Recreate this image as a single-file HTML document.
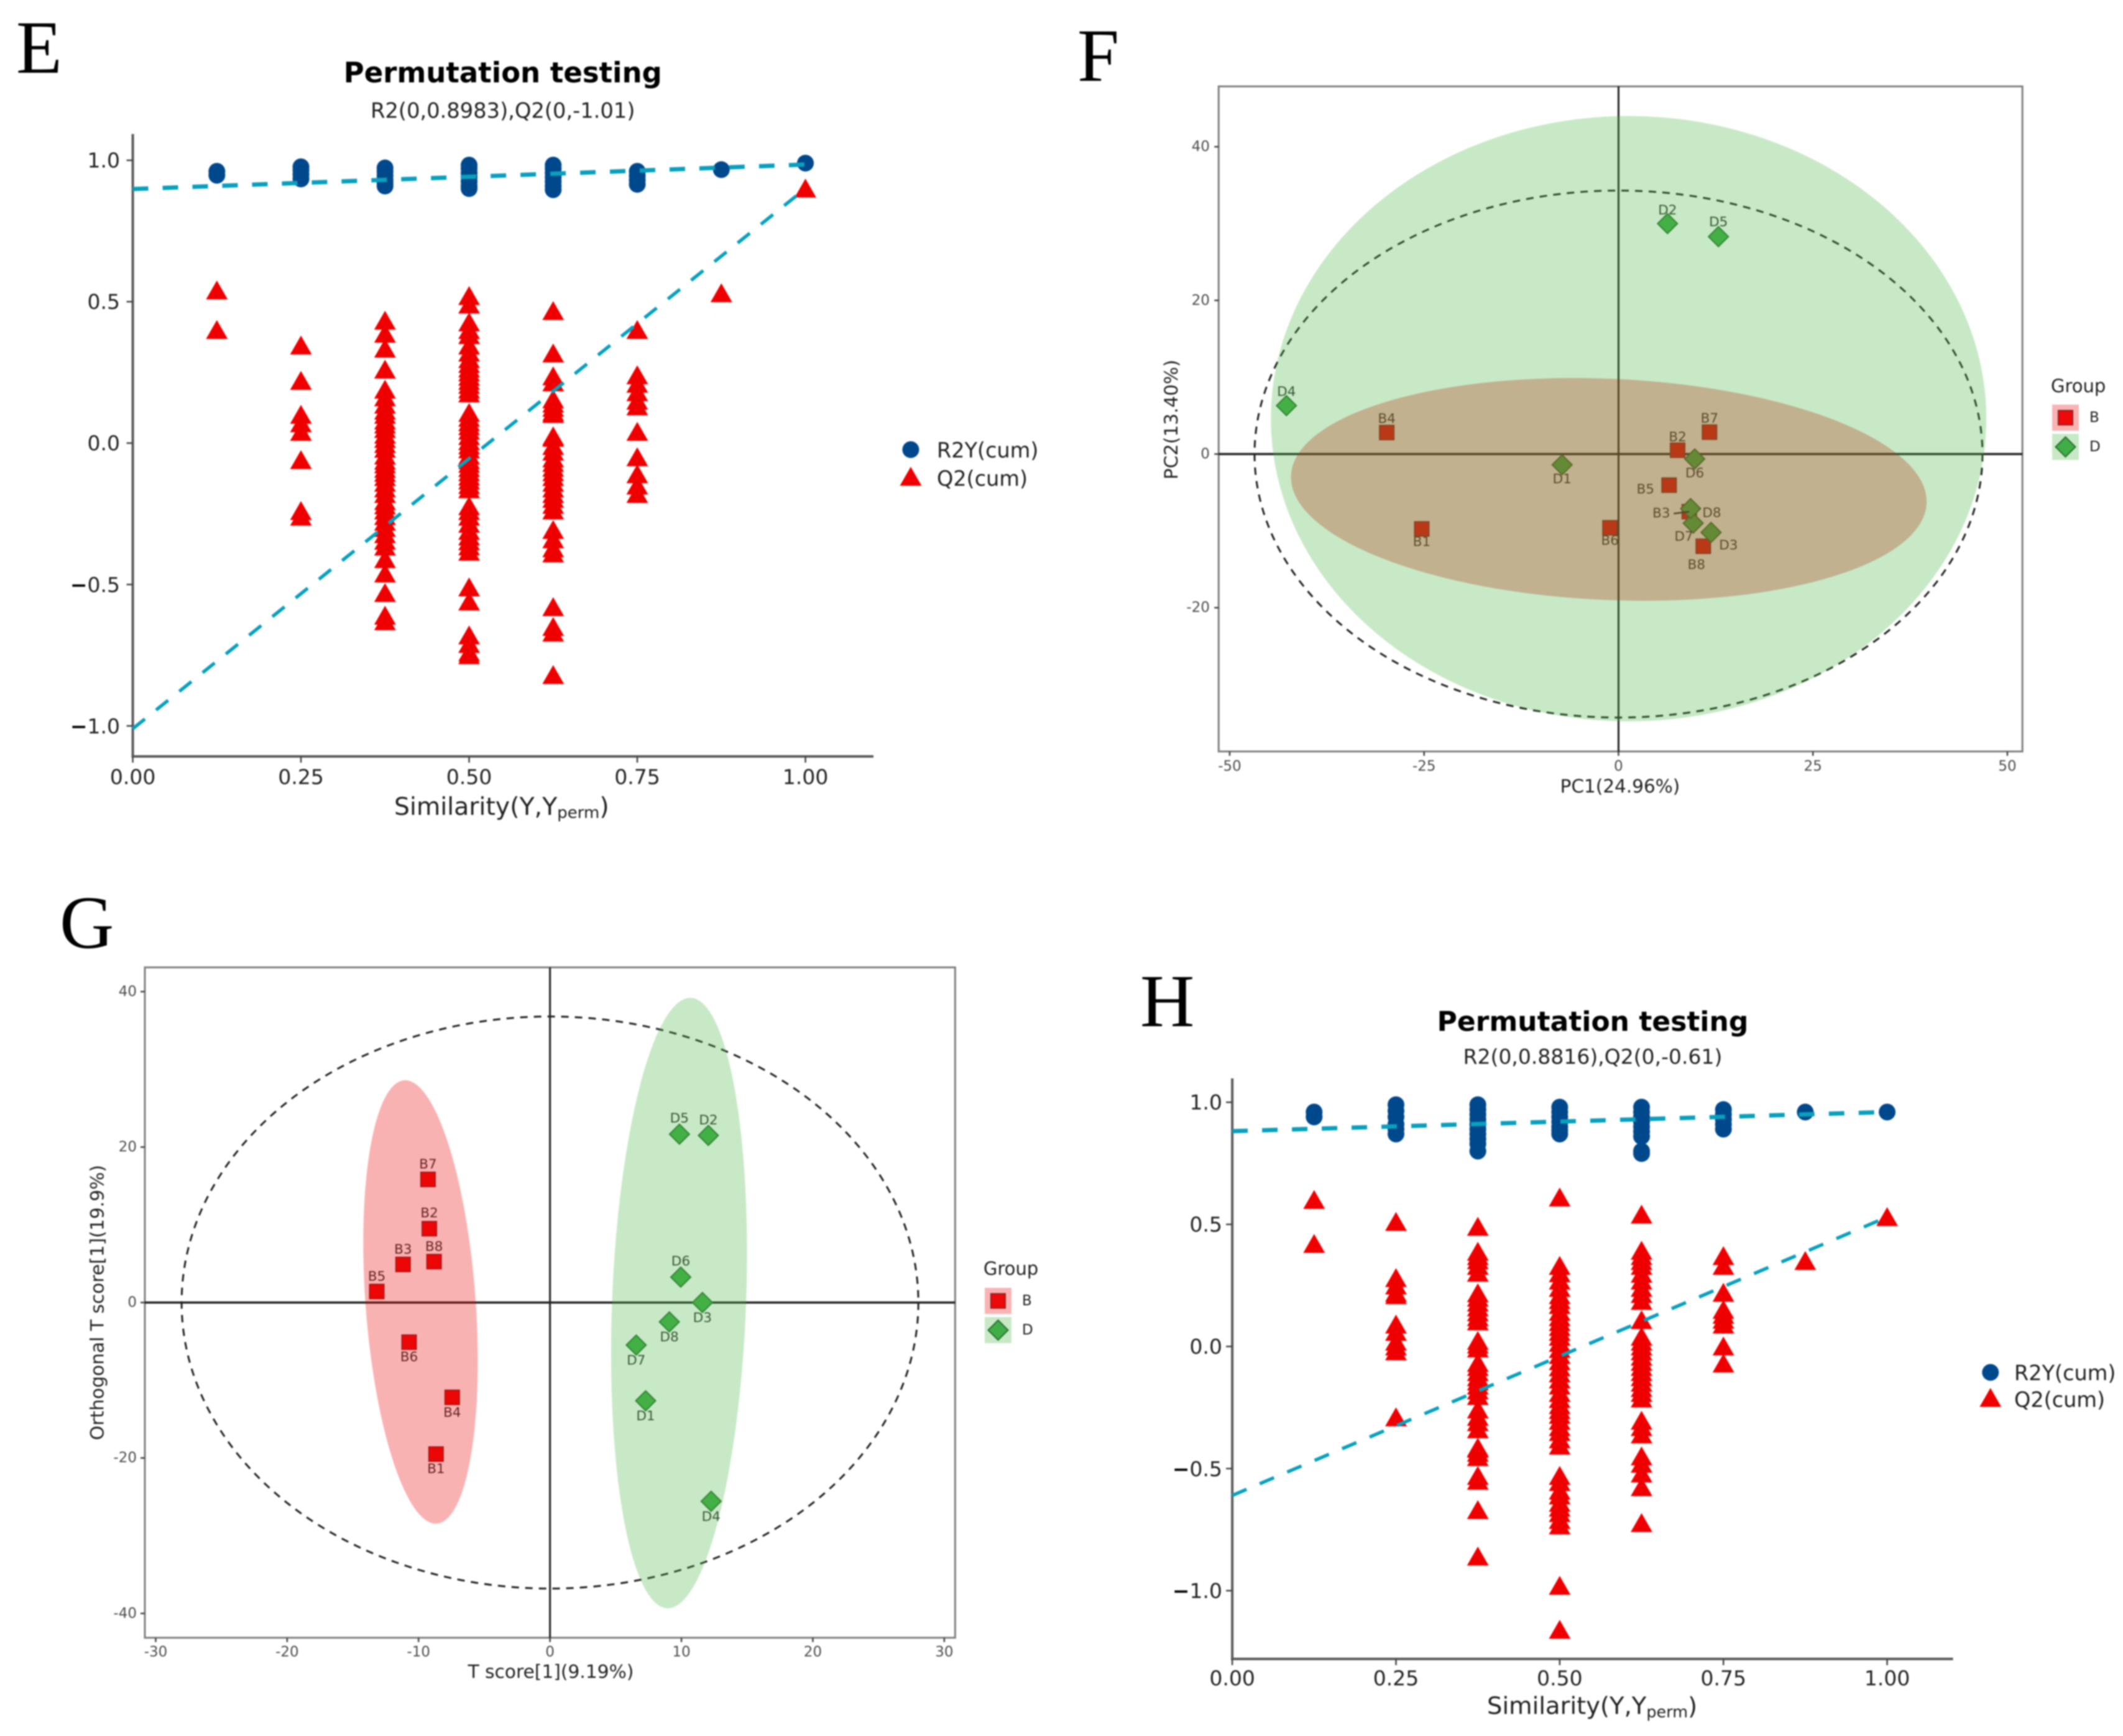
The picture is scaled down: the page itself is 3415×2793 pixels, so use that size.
<!DOCTYPE html>
<html lang="en">
<head>
<meta charset="utf-8">
<title>Permutation testing and score plots</title>
<style>
html,body{margin:0;padding:0;background:#fff;}
svg{display:block;filter:blur(1px);}
text{font-family:"DejaVu Sans","Liberation Sans",sans-serif;}
.letter{font-family:"Liberation Serif",serif;font-size:121px;fill:#000;}
</style>
</head>
<body>
<svg id="figure" xmlns="http://www.w3.org/2000/svg" width="3415" height="2793" viewBox="0 0 3415 2793">
  <rect x="0" y="0" width="3415" height="2793" fill="#ffffff"/>
  <text class="letter" x="26" y="117">E</text>
  <text class="letter" x="1733" y="130">F</text>
  <text class="letter" x="96" y="1525">G</text>
  <text class="letter" x="1834" y="1651">H</text>

  <text x="808.8" y="117" font-size="45" font-weight="bold" text-anchor="middle" dominant-baseline="central" fill="#000">Permutation testing</text>
  <text x="808.8" y="178" font-size="33.7" text-anchor="middle" dominant-baseline="central" fill="#222">R2(0,0.8983),Q2(0,-1.01)</text>
  <text x="634" y="1298" font-size="39.4" dominant-baseline="central" fill="#222">Similarity(Y,Y<tspan font-size="26" dy="10">perm</tspan><tspan dy="-10">)</tspan></text>

  <text x="2562" y="1644" font-size="44" font-weight="bold" text-anchor="middle" dominant-baseline="central" fill="#000">Permutation testing</text>
  <text x="2562" y="1700" font-size="33" text-anchor="middle" dominant-baseline="central" fill="#222">R2(0,0.8816),Q2(0,-0.61)</text>
  <text x="2392" y="2745" font-size="38.5" dominant-baseline="central" fill="#222">Similarity(Y,Y<tspan font-size="25.5" dy="10">perm</tspan><tspan dy="-10">)</tspan></text>

  <text x="2606" y="1265" font-size="29.5" text-anchor="middle" dominant-baseline="central" fill="#222">PC1(24.96%)</text>
  <text x="1884" y="675" font-size="29.5" text-anchor="middle" dominant-baseline="central" fill="#222" transform="rotate(-90 1884 675)">PC2(13.40%)</text>

  <text x="886" y="2690" font-size="29.7" text-anchor="middle" dominant-baseline="central" fill="#222">T score[1](9.19%)</text>
  <text x="157" y="2095.6" font-size="29.7" text-anchor="middle" dominant-baseline="central" fill="#222" transform="rotate(-90 157 2095.6)">Orthogonal T score[1](19.9%)</text>
</svg>

<script>
/* ---------- Panel E data ---------- */
const eSimilarity = [0.125, 0.25, 0.375, 0.5, 0.625, 0.75, 0.875, 1];
const eR2Y = [
  [0.961, 0.947],
  [0.977, 0.965, 0.95, 0.934],
  [0.973, 0.96, 0.945, 0.93, 0.918, 0.909],
  [0.983, 0.97, 0.955, 0.94, 0.925, 0.91, 0.9],
  [0.983, 0.97, 0.955, 0.94, 0.925, 0.91, 0.896],
  [0.961, 0.945, 0.93, 0.915],
  [0.967],
  [0.99]
];
const eQ2 = [
  [0.54, 0.40],
  [0.345, 0.22, 0.10, 0.07, 0.04, -0.06, -0.24, -0.26],
  [0.433, 0.387, 0.334, 0.26, 0.189, 0.162, 0.136, 0.115, 0.10, 0.08, 0.066, 0.05, 0.03, 0.015, -0.003, -0.02, -0.044, -0.062, -0.075, -0.091, -0.105, -0.12, -0.14, -0.16, -0.18, -0.205, -0.22, -0.238, -0.258, -0.278, -0.30, -0.322, -0.345, -0.366, -0.41, -0.461, -0.53, -0.61, -0.63],
  [0.52, 0.49, 0.427, 0.40, 0.382, 0.345, 0.32, 0.297, 0.28, 0.264, 0.25, 0.235, 0.22, 0.206, 0.19, 0.176, 0.107, 0.09, 0.074, 0.06, 0.044, 0.025, 0.007, -0.008, -0.022, -0.044, -0.06, -0.073, -0.088, -0.103, -0.118, -0.132, -0.148, -0.163, -0.223, -0.24, -0.26, -0.285, -0.31, -0.33, -0.347, -0.365, -0.384, -0.51, -0.56, -0.68, -0.71, -0.74, -0.75],
  [0.467, 0.317, 0.236, 0.215, 0.155, 0.14, 0.125, 0.11, 0.103, 0.024, 0.019, -0.01, -0.03, -0.054, -0.07, -0.087, -0.103, -0.12, -0.14, -0.16, -0.18, -0.197, -0.218, -0.238, -0.307, -0.34, -0.372, -0.39, -0.58, -0.65, -0.67, -0.82],
  [0.40, 0.24, 0.21, 0.18, 0.15, 0.13, 0.04, -0.05, -0.11, -0.15, -0.18],
  [0.53],
  [0.90]
];
const eR2Fit = [0.8983, 0.985];
const eQ2Fit = [-1.01, 0.90];
const eXTickValues = [0, 0.25, 0.5, 0.75, 1];
const eXTickLabels = ["0.00", "0.25", "0.50", "0.75", "1.00"];
const eYTickValues = [-1, -0.5, 0, 0.5, 1];
const eYTickLabels = ["-1.0", "-0.5", "0.0", "0.5", "1.0"];

/* ---------- Panel H data ---------- */
const hSimilarity = [0.125, 0.25, 0.375, 0.5, 0.625, 0.75, 0.875, 1];
const hR2Y = [
  [0.96, 0.94],
  [0.99, 0.965, 0.94, 0.91, 0.89, 0.87],
  [0.99, 0.97, 0.95, 0.93, 0.91, 0.89, 0.87, 0.85, 0.83, 0.80],
  [0.98, 0.96, 0.94, 0.92, 0.90, 0.885, 0.87],
  [0.98, 0.96, 0.94, 0.92, 0.90, 0.88, 0.86, 0.80, 0.79],
  [0.97, 0.95, 0.93, 0.91, 0.89],
  [0.96],
  [0.96]
];
const hQ2 = [
  [0.60, 0.42],
  [0.51, 0.28, 0.25, 0.22, 0.21, 0.09, 0.06, 0.02, 0.0, -0.02, -0.29],
  [0.49, 0.388, 0.37, 0.353, 0.33, 0.302, 0.218, 0.20, 0.18, 0.16, 0.14, 0.12, 0.103, 0.023, 0.008, -0.008, -0.067, -0.084, -0.105, -0.126, -0.143, -0.16, -0.18, -0.203, -0.258, -0.288, -0.31, -0.339, -0.414, -0.419, -0.435, -0.453, -0.53, -0.55, -0.67, -0.86],
  [0.61, 0.33, 0.30, 0.27, 0.24, 0.21, 0.19, 0.17, 0.142, 0.12, 0.10, 0.08, 0.06, 0.04, 0.015, -0.01, -0.035, -0.06, -0.085, -0.11, -0.135, -0.16, -0.19, -0.215, -0.24, -0.26, -0.28, -0.304, -0.33, -0.35, -0.38, -0.406, -0.53, -0.555, -0.59, -0.61, -0.64, -0.66, -0.682, -0.71, -0.733, -0.98, -1.16],
  [0.54, 0.392, 0.37, 0.35, 0.33, 0.298, 0.27, 0.24, 0.215, 0.187, 0.108, 0.04, 0.02, 0.0, -0.02, -0.042, -0.063, -0.084, -0.105, -0.126, -0.148, -0.17, -0.19, -0.213, -0.304, -0.33, -0.36, -0.45, -0.48, -0.52, -0.576, -0.723],
  [0.37, 0.33, 0.22, 0.15, 0.13, 0.11, 0.09, 0.0, -0.07],
  [0.35],
  [0.53]
];
const hR2Fit = [0.8816, 0.96];
const hQ2Fit = [-0.61, 0.53];
const hXTickValues = [0, 0.25, 0.5, 0.75, 1];
const hXTickLabels = ["0.00", "0.25", "0.50", "0.75", "1.00"];
const hYTickValues = [-1, -0.5, 0, 0.5, 1];
const hYTickLabels = ["-1.0", "-0.5", "0.0", "0.5", "1.0"];

/* ---------- Panel F data ---------- */
const fBNames = ["B1", "B2", "B3", "B4", "B5", "B6", "B7", "B8"];
const fBScoreX = [-25.3, 7.6, 9.1, -29.8, 6.5, -1.1, 11.7, 10.9];
const fBScoreY = [-9.75, 0.5, -7.5, 2.8, -4.05, -9.6, 2.85, -12];
const fDNames = ["D1", "D2", "D3", "D4", "D5", "D6", "D7", "D8"];
const fDScoreX = [-7.25, 6.3, 11.9, -42.7, 12.85, 9.8, 9.6, 9.27];
const fDScoreY = [-1.4, 30, -10.2, 6.3, 28.3, -0.64, -9, -7.1];
const fXTickValues = [-50, -25, 0, 25, 50];
const fYTickValues = [-20, 0, 20, 40];
const fT2Radii = [46.8, 34.3];
const fEllipseD = [1.3, 4.6, 46, 39.4, 0];
const fEllipseB = [-1.25, -4.6, 40.9, 14.4, 2.5];

/* ---------- Panel G data ---------- */
const gBNames = ["B1", "B2", "B3", "B4", "B5", "B6", "B7", "B8"];
const gBScoreX = [-8.67, -9.18, -11.18, -7.44, -13.18, -10.72, -9.28, -8.82];
const gBScoreY = [-19.5, 9.5, 4.9, -12.2, 1.42, -5.1, 15.84, 5.26];
const gDNames = ["D1", "D2", "D3", "D4", "D5", "D6", "D7", "D8"];
const gDScoreX = [7.28, 12.05, 11.6, 12.26, 9.85, 9.95, 6.56, 9.08];
const gDScoreY = [-12.64, 21.5, 0, -25.57, 21.66, 3.27, -5.47, -2.49];
const gXTickValues = [-30, -20, -10, 0, 10, 20, 30];
const gYTickValues = [-40, -20, 0, 20, 40];
const gT2Radii = [28.03, 36.8];
const gEllipseB = [-9.85, 0.07, 4.19, 28.6, -4.2];
const gEllipseD = [9.82, -0.07, 5.1, 39.3, 2.2];

/* ---------- Label layout (pixels from marker centre) ---------- */
const fLabelLayout = {
  B1:[0,21], B2:[0,-21], B3:[-45,3], B4:[0,-22], B5:[-38,7], B6:[0,21], B7:[0,-22], B8:[-11,30],
  D1:[0,23], D2:[0,-21], D3:[28,21], D4:[0,-22], D5:[0,-23], D6:[0,23], D7:[-15,22], D8:[34,7]
};
const gLabelLayout = {
  B1:[0,24], B2:[0,-25], B3:[0,-24], B4:[0,25], B5:[0,-24], B6:[0,24], B7:[0,-24], B8:[0,-24],
  D1:[0,25], D2:[0,-24], D3:[0,25], D4:[0,25], D5:[0,-25], D6:[0,-25], D7:[0,25], D8:[0,25]
};

const NS = "http://www.w3.org/2000/svg";
const figure = document.getElementById("figure");

function make(parent, tag, props) {
  const el = document.createElementNS(NS, tag);
  for (const k in props) el.setAttribute(k, props[k]);
  parent.appendChild(el);
  return el;
}

function drawGroup(name) {
  const el = make(figure, "g", {});
  
  
  return el;
}

function drawCircle(parent, cx, cy) {
  const el = make(parent, "circle", {cx: cx, cy: cy, r: 13.5, fill: "#00488c"});
  
  
  return el;
}

function drawTriangle(parent, cx, cy) {
  const pts = [[cx, cy - 16], [cx + 17.5, cy + 14.5], [cx - 17.5, cy + 14.5]].map(p => p.join(",")).join(" ");
  const el = make(parent, "polygon", {points: pts, fill: "#ee0000"});
  
  
  return el;
}

function drawSquare(parent, cx, cy) {
  const el = make(parent, "rect", {x: cx - 11.5, y: cy - 11.5, width: 23, height: 23, fill: "#ee0a0a", stroke: "#8f2020", "stroke-width": 2});
  
  
  return el;
}

function drawDiamond(parent, cx, cy) {
  const pts = [[cx, cy - 16], [cx + 16, cy], [cx, cy + 16], [cx - 16, cy]].map(p => p.join(",")).join(" ");
  const el = make(parent, "polygon", {points: pts, fill: "#3fae47", stroke: "#2b6e31", "stroke-width": 2});
  
  
  return el;
}

function drawTick(parent, x1, y1, x2, y2, color) {
  const el = make(parent, "line", {x1: x1, y1: y1, x2: x2, y2: y2, stroke: color, "stroke-width": 2.5});
  
  
  return el;
}

function drawAxisLine(parent, x1, y1, x2, y2, name) {
  const el = make(parent, "line", {x1: x1, y1: y1, x2: x2, y2: y2, stroke: "#5a5a5a", "stroke-width": 4});
  
  
  return el;
}

function drawTickLabel(parent, x, y, str, size, anchor, color, boldMinus) {
  const el = make(parent, "text", {x: x, y: y, "font-size": size, "text-anchor": anchor, "dominant-baseline": "central", fill: color});
  
  
  if (boldMinus && str.charAt(0) === "-") {
    const m = make(el, "tspan", {"font-weight": "bold", fill: "#000"});
    m.textContent = "\u2212";
    const r = make(el, "tspan", {});
    r.textContent = str.slice(1);
  } else {
    el.textContent = str;
  }
  return el;
}

function drawFitLine(parent, x0, y0, x1, y1, width, name) {
  const el = make(parent, "line", {x1: x0, y1: y0, x2: x1, y2: y1, stroke: "#0aa0bd", "stroke-width": width, "stroke-dasharray": "25 23"});
  
  
  return el;
}

function drawLegendText(parent, x, y, str, size, color) {
  const el = make(parent, "text", {x: x, y: y, "font-size": size, "dominant-baseline": "central", fill: color});
  
  
  el.textContent = str;
  return el;
}

function drawPermutationPanel(c) {
  const g = drawGroup(c.name);
  const xs = c.xScale, ys = c.yScale;
  drawAxisLine(g, xs(0), c.top, xs(0), c.bottom + 2, 'y-axis-line');
  drawAxisLine(g, xs(0) - 2, c.bottom, c.right, c.bottom, 'x-axis-line');
  c.xTicks.forEach((v, i) => {
    drawTick(g, xs(v), c.bottom, xs(v), c.bottom + 10, "#444");
    drawTickLabel(g, xs(v), c.xLabelY, c.xLabels[i], c.tickSize, "middle", "#222", false);
  });
  c.yTicks.forEach((v, i) => {
    drawTick(g, xs(0) - 10, ys(v), xs(0), ys(v), "#444");
    drawTickLabel(g, c.yLabelX, ys(v), c.yLabels[i], c.tickSize, "end", "#222", true);
  });
  c.x.forEach((xv, i) => c.r2[i].forEach(v => drawCircle(g, xs(xv), ys(v))));
  c.x.forEach((xv, i) => c.q2[i].forEach(v => drawTriangle(g, xs(xv), ys(v))));
  drawFitLine(g, xs(0), ys(c.r2Fit[0]), xs(1), ys(c.r2Fit[1]), 7, 'r2y-fit-line');
  drawFitLine(g, xs(0), ys(c.q2Fit[0]), xs(1), ys(c.q2Fit[1]), 5.5, 'q2-fit-line');
  drawCircle(g, c.legendX, c.legendY[0]);
  drawTriangle(g, c.legendX, c.legendY[1]);
  drawLegendText(g, c.legendTextX, c.legendY[0] + 1, "R2Y(cum)", 33.5, "#222");
  drawLegendText(g, c.legendTextX, c.legendY[1] + 3, "Q2(cum)", 33.5, "#222");
}

function drawFilledEllipse(parent, c, params, fill, opacity, name) {
  const cx = c.xScale(params[0]), cy = c.yScale(params[1]);
  const rx = Math.abs(c.xScale(params[2]) - c.xScale(0));
  const ry = Math.abs(c.yScale(params[3]) - c.yScale(0));
  const el = make(parent, "ellipse", {cx: cx, cy: cy, rx: rx, ry: ry, fill: fill, "fill-opacity": opacity, transform: "rotate(" + params[4] + " " + cx + " " + cy + ")"});
  
  
  return el;
}

function drawSampleLabel(parent, x, y, str) {
  const el = make(parent, "text", {x: x, y: y, "font-size": 21.5, "text-anchor": "middle", "dominant-baseline": "central", fill: "#333"});
  
  
  el.textContent = str;
  return el;
}

function drawScorePanel(c) {
  const g = drawGroup(c.name);
  const xs = c.xScale, ys = c.yScale;

  const frame = make(g, "rect", {x: c.left, y: c.top, width: c.right - c.left, height: c.bottom - c.top, fill: "none", stroke: "#7f7f7f", "stroke-width": 3});
  
  

  c.xTicks.forEach(v => {
    drawTick(g, xs(v), c.bottom, xs(v), c.bottom + 7, "#444");
    drawTickLabel(g, xs(v), c.xLabelY, String(v), 23, "middle", "#4d4d4d", false);
  });
  c.yTicks.forEach(v => {
    drawTick(g, c.left - 7, ys(v), c.left, ys(v), "#444");
    drawTickLabel(g, c.yLabelX, ys(v), String(v), 23, "end", "#4d4d4d", false);
  });

  const vZero = make(g, "line", {x1: xs(0), y1: c.top, x2: xs(0), y2: c.bottom, stroke: "#222", "stroke-width": 3});
  
  
  const hZero = make(g, "line", {x1: c.left, y1: ys(0), x2: c.right, y2: ys(0), stroke: "#222", "stroke-width": 3.5});
  
  

  const t2 = make(g, "ellipse", {cx: xs(0), cy: ys(0), rx: xs(c.t2[0]) - xs(0), ry: ys(0) - ys(c.t2[1]), fill: "none", stroke: "#222", "stroke-width": 3, "stroke-dasharray": "12 10"});
  
  

  c.bx.forEach((v, i) => {
    drawSquare(g, xs(v), ys(c.by[i]));
  });
  c.dx.forEach((v, i) => {
    drawDiamond(g, xs(v), ys(c.dy[i]));
  });
  c.bNames.forEach((n, i) => {
    const off = c.layout[n];
    drawSampleLabel(g, xs(c.bx[i]) + off[0], ys(c.by[i]) + off[1], n);
  });
  c.dNames.forEach((n, i) => {
    const off = c.layout[n];
    drawSampleLabel(g, xs(c.dx[i]) + off[0], ys(c.dy[i]) + off[1], n);
  });
  if (c.leader) {
    const i = c.bNames.indexOf(c.leader);
    const lead = make(g, "line", {x1: xs(c.bx[i]) - 25, y1: ys(c.by[i]) + 3, x2: xs(c.bx[i]), y2: ys(c.by[i]), stroke: "#222", "stroke-width": 2.5});
    
    
  }

  drawFilledEllipse(g, c, c.ellipseFirst[0], c.ellipseFirst[1], 0.3, c.ellipseFirst[2]);
  drawFilledEllipse(g, c, c.ellipseSecond[0], c.ellipseSecond[1], 0.3, c.ellipseSecond[2]);

  drawLegendText(g, c.legendX, c.legendTitleY, "Group", 29, "#222");
  const keyB = make(g, "rect", {x: c.legendX + 2, y: c.legendKeyY[0] - 21, width: 43, height: 42, fill: "#f9b3b4"});
  
  
  const keyD = make(g, "rect", {x: c.legendX + 2, y: c.legendKeyY[1] - 21, width: 43, height: 42, fill: "#c8e9c6"});
  
  
  drawSquare(g, c.legendX + 23.5, c.legendKeyY[0]);
  drawDiamond(g, c.legendX + 23.5, c.legendKeyY[1]);
  drawLegendText(g, c.legendX + 62, c.legendKeyY[0], "B", 23, "#222");
  drawLegendText(g, c.legendX + 62, c.legendKeyY[1], "D", 23, "#222");
}

drawPermutationPanel({
  name: "panel-e-permutation-plot",
  xScale: v => 213.6 + v * 1082,
  yScale: v => 712.9 - v * 455,
  top: 215.6, bottom: 1217, right: 1405,
  xLabelY: 1250, yLabelX: 193, tickSize: 33,
  xTicks: eXTickValues, xLabels: eXTickLabels,
  yTicks: eYTickValues, yLabels: eYTickLabels,
  x: eSimilarity, r2: eR2Y, q2: eQ2, r2Fit: eR2Fit, q2Fit: eQ2Fit,
  legendX: 1465, legendY: [723.4, 767], legendTextX: 1507
});

drawPermutationPanel({
  name: "panel-h-permutation-plot",
  xScale: v => 1982.2 + v * 1053.4,
  yScale: v => 2166.3 - v * 392.9,
  top: 1735, bottom: 2669, right: 3141.6,
  xLabelY: 2700, yLabelX: 1966, tickSize: 33,
  xTicks: hXTickValues, xLabels: hXTickLabels,
  yTicks: hYTickValues, yLabels: hYTickLabels,
  x: hSimilarity, r2: hR2Y, q2: hQ2, r2Fit: hR2Fit, q2Fit: hQ2Fit,
  legendX: 3201.8, legendY: [2208, 2249], legendTextX: 3240
});

drawScorePanel({
  name: "panel-f-pca-score-plot",
  xScale: v => 2603.5 + v * 12.51,
  yScale: v => 730.5 - v * 12.36,
  left: 1960.3, right: 3253.2, top: 139, bottom: 1209,
  xLabelY: 1233, yLabelX: 1946,
  xTicks: fXTickValues, yTicks: fYTickValues,
  t2: fT2Radii,
  bx: fBScoreX, by: fBScoreY, bNames: fBNames,
  dx: fDScoreX, dy: fDScoreY, dNames: fDNames,
  layout: fLabelLayout, leader: "B3",
  ellipseFirst: [fEllipseD, "rgb(72,182,65)", "group-d-confidence-ellipse"],
  ellipseSecond: [fEllipseB, "rgb(180,50,15)", "group-b-confidence-ellipse"],
  legendX: 3299, legendTitleY: 621, legendKeyY: [672, 719]
});

drawScorePanel({
  name: "panel-g-opls-da-score-plot",
  xScale: v => 884.7 + v * 21.14,
  yScale: v => 2095.6 - v * 12.505,
  left: 233, right: 1536.4, top: 1556.4, bottom: 2634.9,
  xLabelY: 2658, yLabelX: 220,
  xTicks: gXTickValues, yTicks: gYTickValues,
  t2: gT2Radii,
  bx: gBScoreX, by: gBScoreY, bNames: gBNames,
  dx: gDScoreX, dy: gDScoreY, dNames: gDNames,
  layout: gLabelLayout, leader: null,
  ellipseFirst: [gEllipseB, "rgb(235,0,0)", "group-b-confidence-ellipse"],
  ellipseSecond: [gEllipseD, "rgb(72,182,65)", "group-d-confidence-ellipse"],
  legendX: 1582, legendTitleY: 2041, legendKeyY: [2093, 2140]
});
</script>
</body>
</html>
